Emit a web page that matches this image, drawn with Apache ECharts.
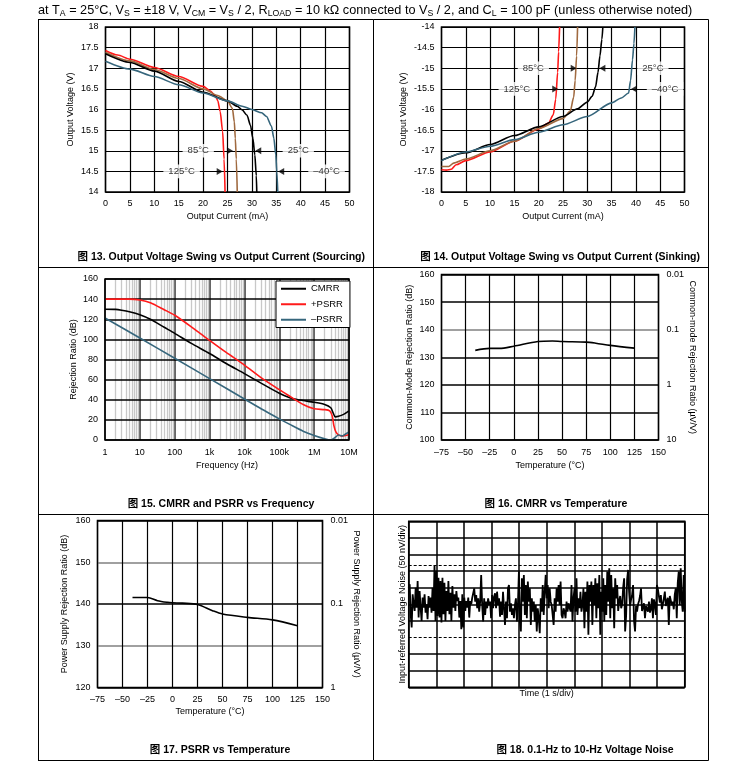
<!DOCTYPE html>
<html><head><meta charset="utf-8">
<script src="https://cdn.jsdelivr.net/npm/echarts@6/dist/echarts.min.js"></script>
<style>html,body{margin:0;padding:0;background:#fff}#c{width:746px;height:781px}</style>
</head><body><div id="c"></div><script>
const FONT = '"Liberation Sans", Arial, "Noto Sans CJK SC", sans-serif';

// ---- Fig 13: sourcing (current mA, voltage V)
const src125 = [[0,17.43],[2.5,17.32],[5,17.22],[10,17.02],[15,16.8],[20,16.56],[21.5,16.45],[22.5,16.33],[23,16.22],[23.5,15.95],[24,15.47],[24.3,14.8],[24.5,14]];
const src85 = [[0,17.39],[5,17.18],[10,16.97],[15,16.75],[20,16.5],[23,16.34],[25,16.21],[26,16.03],[26.4,15.7],[26.6,15.3],[26.8,14.8],[27,14]];
const src25 = [[0,17.35],[5,17.14],[10,16.93],[15,16.68],[20,16.42],[25,16.21],[27,16.08],[28,15.99],[29,15.86],[29.7,15.62],[30.2,15.3],[30.6,14.9],[30.9,14.4],[31,14]];
const srcM40 = [[0,17.17],[5,16.98],[10,16.8],[15,16.6],[20,16.4],[25,16.21],[28,16.08],[30,16.0],[32,15.92],[33,15.83],[34,15.6],[34.5,15.3],[34.9,14.9],[35.1,14.5],[35.3,14]];
const srcLabels = [['85°C',19.0,15],['25°C',39.5,15],['125°C',15.6,14.5],['–40°C',45.3,14.5]];
const srcArrows = [[25.5,15,'right'],[31.3,15,'left'],[23.4,14.5,'right'],[36.0,14.5,'left']];

// ---- Fig 14: sinking
const snk125 = [[0,-17.46],[1,-17.47],[2,-17.45],[3,-17.34],[5,-17.24],[10,-17.03],[15,-16.77],[20,-16.47],[22,-16.33],[23,-16.13],[23.5,-15.75],[23.9,-15.1],[24.1,-14.6],[24.3,-14]];
const snk85 = [[0,-17.38],[1.5,-17.38],[2.5,-17.3],[5,-17.2],[10,-17.0],[15,-16.77],[20,-16.46],[25,-16.22],[26.5,-16.04],[27.2,-15.7],[27.5,-15.3],[27.8,-14.7],[28,-14]];
const snk25 = [[0,-17.23],[5,-17.05],[10,-16.85],[15,-16.63],[20,-16.42],[25,-16.17],[28,-15.98],[30,-15.82],[31,-15.68],[31.7,-15.45],[32.2,-15.1],[32.6,-14.7],[33,-14.3],[33.2,-14]];
const snkM40 = [[0,-17.24],[5,-17.03],[10,-16.89],[15,-16.73],[20,-16.55],[25,-16.37],[30,-16.17],[35,-15.84],[37,-15.72],[38.5,-15.6],[38.9,-15.3],[39.3,-14.8],[39.6,-14.4],[39.8,-14]];
const snkLabels = [['85°C',18.9,-15],['25°C',43.5,-15],['125°C',15.5,-15.5],['–40°C',46.0,-15.5]];
const snkArrows = [[27.2,-15,'right'],[33.1,-15,'left'],[23.4,-15.5,'right'],[39.6,-15.5,'left']];

// ---- Fig 15: CMRR / PSRR vs frequency (Hz, dB)
const cmrrFreq = [[1,130],[2,129.8],[3,129],[5,127.5],[10,124.5],[20,120],[50,112],[100,106],[300,96],[1000,86],[3000,76],[10000,66],[30000,56.5],[100000,46.5],[200000,42],[300000,40.5],[500000,39.2],[1000000,37.5],[2000000,35.3],[3000000,32],[3500000,27],[4000000,23],[5000000,23.5],[7000000,25.5],[10000000,29]];
const psrrPFreq = [[1,140],[5,140],[10,139.2],[20,136.5],[50,129.5],[100,124],[300,112.5],[1000,99],[3000,87],[10000,74.5],[30000,62],[100000,50],[200000,43.5],[500000,35],[1000000,31],[2000000,30.2],[2800000,29],[3300000,24],[3700000,14],[4200000,8],[5000000,5],[6000000,4],[8000000,4.5],[10000000,5.5]];
const psrrNFreq = [[1,121.3],[10,101.3],[100,81.3],[1000,61],[10000,40.8],[30000,31],[100000,21],[200000,15.5],[500000,8.5],[1000000,4.5],[2000000,1.2],[3000000,0],[4000000,2.5],[5000000,5],[6500000,4],[8000000,6],[10000000,8]];
const freqDecades = [1,10,100,1000,10000,100000,1000000];
const freqLabels = {1:'1',10:'10',100:'100',1000:'1k',10000:'10k',100000:'100k',1000000:'1M',10000000:'10M'};

// ---- Fig 16 / 17: vs temperature
const cmrrTemp = [-40,-25,-15,0,25,40,50,75,85,100,125];
const cmrrDb = [132.5,133.2,133.2,134.0,135.7,135.9,135.7,135.5,135.1,134.3,133.3];
const psrrTemp = [-40,-25,-15,-5,0,10,25,40,50,75,100,125];
const psrrDb = [141.55,141.55,140.8,140.4,140.3,140.2,139.9,138.4,137.6,136.8,136.2,134.8];

// ---- Fig 18: noise (divisions, centre = 5)
const noise = [
6.0,6.2,4.4,3.6,5.6,5.0,4.6,6.0,4.8,6.4,4.2,5.8,4.8,4.0,5.4,4.8,5.6,4.5,5.0,4.1,5.5,4.8,5.4,4.5,6.0,4.6,7.35,4.0,7.0,4.3,6.6,4.2,6.4,3.9,6.6,4.4,6.3,4.0,5.8,4.6,6.4,4.4,5.7,4.0,6.1,4.8,5.6,4.6,5.8,5.2,5.4,4.2,5.2,3.5,5.6,3.6,5.4,4.6,5.2,4.8,5.4,4.2,5.2,5.0,5.4,5.3,
5.96,5.16,5.56,4.76,5.36,4.56,5.16,6.77,4.96,3.96,5.36,4.36,5.16,4.76,5.36,4.96,5.16,4.16,5.56,4.76,5.46,5.66,4.76,5.76,4.96,5.36,4.26,5.16,4.36,5.76,4.76,3.76,5.16,4.16,5.96,6.16,4.56,5.06,4.36,4.76,4.16,4.96,5.36,3.96,4.96,6.97,3.96,3.36,6.57,5.16,6.77,4.36,6.16,4.16,6.37,5.16,5.96,3.76,5.36,4.56,5.16,3.96,4.96,3.36,4.76,4.16,3.26,5.36,4.56,6.16,4.36,5.76,
6.77,5.36,6.16,4.76,5.96,5.16,4.96,4.36,3.76,5.36,4.56,5.96,5.16,6.16,4.96,6.37,4.36,4.16,4.76,4.56,4.16,5.16,4.56,5.06,5.16,4.56,6.16,3.96,5.36,5.96,4.56,6.57,4.36,5.36,4.76,5.76,4.56,4.96,5.96,3.56,5.76,4.56,6.37,3.16,6.16,5.16,6.37,3.76,6.16,4.96,6.57,4.16,6.26,4.76,6.77,3.16,5.76,4.56,6.57,3.96,6.16,4.36,6.97,5.16,7.17,4.16,6.77,4.76,5.96,3.56,6.57,5.36,
6.16,4.6,5.2,5.5,4.76,5.0,6.0,6.57,3.36,4.3,6.5,7.07,5.76,4.9,5.3,5.56,6.16,4.0,3.36,4.9,4.56,5.0,5.2,5.5,5.96,4.6,4.5,5.06,4.16,4.9,4.8,4.56,5.16,4.5,4.7,5.36,4.16,5.3,5.0,4.36,6.16,5.9,5.5,5.1,5.56,4.7,5.0,5.36,5.76,4.9,5.2,5.4,3.76,5.5,5.4,4.96,5.16,4.7,5.6,5.96,4.16,6.3,6.97,4.96,7.17,5.2,4.56,6.77,4.56
];
const noiseLimits = [7.35, 3.0];

const dash = v => (v < 0 ? '–' + Math.abs(v) : '' + v);
const COL = {red:'#ff1a1a', brown:'#a06a40', black:'#000', blue:'#36667c'};

function axis(o) {
  const base = {
    axisLine:{show:false}, axisTick:{show:false},
    axisLabel:{color:'#000', fontSize:9, fontFamily:FONT, margin:7},
    nameTextStyle:{color:'#000', fontSize:9, fontFamily:FONT},
    nameLocation:'middle',
    splitLine:{show:true, lineStyle:{color:'#000', width:1.2}}
  };
  const r = Object.assign({}, base, o);
  if (o.axisLabel) r.axisLabel = Object.assign({}, base.axisLabel, o.axisLabel);
  if (o.splitLine) r.splitLine = Object.assign({}, base.splitLine, o.splitLine);
  return r;
}
function line(name, data, color, xi, yi, extra) {
  return Object.assign({type:'line', name, data, xAxisIndex:xi, yAxisIndex:yi, symbol:'none', showSymbol:false,
    smooth:0.25, lineStyle:{color, width:1.6}, itemStyle:{color}, z:3, silent:true, clip:true}, extra || {});
}
function labelSeries(list, xi, yi) {
  return {type:'scatter', xAxisIndex:xi, yAxisIndex:yi, symbol:'rect', symbolSize:1, itemStyle:{color:'rgba(0,0,0,0)'}, z:6, silent:true,
    data: list.map(l => ({name:l[0], value:[l[1], l[2]]})),
    label:{show:true, position:'inside', formatter:'{b}', color:'#000', fontSize:9.5, fontFamily:FONT, backgroundColor:'#fff', padding:[2,5]}};
}
function arrowSeries(list, xi, yi) {
  return {type:'scatter', xAxisIndex:xi, yAxisIndex:yi, symbol:'triangle', symbolSize:[7,6], z:6, silent:true,
    itemStyle:{color:'#000'},
    data: list.map(a => ({value:[a[0], a[1]], symbolRotate: a[2] === 'right' ? -90 : 90}))};
}

const minorFreq = [];
freqDecades.forEach(d => { for (let k = 2; k <= 9; k++) minorFreq.push({xAxis: d * k}); });

const hdr = 'at T{s|A} = 25°C, V{s|S} = ±18 V, V{s|CM} = V{s|S} / 2, R{s|LOAD} = 10 kΩ connected to V{s|S} / 2, and C{s|L} = 100 pF (unless otherwise noted)';

const chart = echarts.init(document.getElementById('c'), null, {renderer:'canvas'});
const gridBase = {show:true, borderColor:'#000', borderWidth:1.5, backgroundColor:'rgba(0,0,0,0)'};
chart.setOption({
  animation:false,
  backgroundColor:'#fff',
  textStyle:{fontFamily:FONT},
  grid:[
    Object.assign({left:105.5, top:27, width:244, height:165}, gridBase),
    Object.assign({left:441.5, top:27, width:243, height:165}, gridBase),
    Object.assign({left:105, top:279, width:244, height:161, z:4}, gridBase),
    Object.assign({left:441.5, top:274.5, width:217, height:165.5}, gridBase),
    Object.assign({left:97.5, top:520.5, width:225, height:167}, gridBase),
    Object.assign({left:408.7, top:521.3, width:276, height:166}, gridBase)
  ],
  legend:{data:['CMRR','+PSRR','–PSRR'], orient:'vertical', left:276, top:281, backgroundColor:'#fff', borderColor:'#000', borderWidth:1,
    padding:[3,7,3,5], itemWidth:25, itemHeight:2, itemGap:6, icon:'rect', selectedMode:false,
    textStyle:{color:'#000', fontSize:9.5, fontFamily:FONT}, z:6},
  xAxis:[
    axis({type:'value', gridIndex:0, min:0, max:50, interval:5, name:'Output Current (mA)', nameGap:20}),
    axis({type:'value', gridIndex:1, min:0, max:50, interval:5, name:'Output Current (mA)', nameGap:20}),
    axis({type:'log', logBase:10, gridIndex:2, min:1, max:10000000, name:'Frequency (Hz)', nameGap:21, z:1,
      axisLabel:{interval:0, margin:8, formatter:v => freqLabels[Math.round(v)] || ''},
      splitLine:{lineStyle:{color:'#666', width:2}}}),
    axis({type:'value', gridIndex:3, min:-75, max:150, interval:25, name:'Temperature (°C)', nameGap:21, axisLabel:{formatter:dash, margin:8}}),
    axis({type:'value', gridIndex:4, min:-75, max:150, interval:25, name:'Temperature (°C)', nameGap:20, axisLabel:{formatter:dash, margin:8}}),
    axis({type:'value', gridIndex:5, min:0, max:10, interval:1, name:'Time (1 s/div)', nameGap:2, axisLabel:{show:false},
      splitLine:{lineStyle:{color:'#000', width:1.5}}})
  ],
  yAxis:[
    axis({type:'value', gridIndex:0, min:14, max:18, interval:0.5, name:'Output Voltage (V)', nameRotate:90, nameGap:30}),
    axis({type:'value', gridIndex:1, min:-18, max:-14, interval:0.5, name:'Output Voltage (V)', nameRotate:90, nameGap:33}),
    axis({type:'value', gridIndex:2, min:0, max:160, interval:20, name:'Rejection Ratio (dB)', nameRotate:90, nameGap:27, z:2,
      splitLine:{lineStyle:{color:'#000', width:1.5}}}),
    axis({type:'value', gridIndex:3, min:100, max:160, interval:10, position:'left', name:'Common-Mode Rejection Ratio (dB)', nameRotate:90, nameGap:27,
      splitLine:{lineStyle:{color:['#000','#000','#000','#000','#808080','#000','#000'], width:1.5}}}),
    axis({type:'log', logBase:10, gridIndex:3, min:0.01, max:10, inverse:true, position:'right', name:'Common-mode Rejection Ratio (µV/V)', nameRotate:-90, nameGap:21,
      splitLine:{show:false}, axisLabel:{margin:8, formatter:v => '' + parseFloat(v.toPrecision(2))}}),
    axis({type:'value', gridIndex:4, min:120, max:160, interval:10, position:'left', name:'Power Supply Rejection Ratio (dB)', nameRotate:90, nameGap:28,
      splitLine:{lineStyle:{color:['#000','#808080','#000','#808080','#000'], width:1.5}}}),
    axis({type:'log', logBase:10, gridIndex:4, min:0.01, max:1, inverse:true, position:'right', name:'Power Supply Rejection Ratio (µV/V)', nameRotate:-90, nameGap:23,
      splitLine:{show:false}, axisLabel:{margin:8, formatter:v => '' + parseFloat(v.toPrecision(2))}}),
    axis({type:'value', gridIndex:5, min:0, max:10, interval:1, name:'Input-referred Voltage Noise (50 nV/div)', nameRotate:90, nameGap:2, axisLabel:{show:false},
      splitLine:{lineStyle:{color:['#000','#000','#000','rgba(0,0,0,0)','#000','#000','#000','#000','#000','#000','#000'], width:1.5}}})
  ],
  series:[
    line('s125', src125, COL.red, 0, 0, {smoothMonotone:'x'}),
    line('s85', src85, COL.brown, 0, 0, {smoothMonotone:'x'}),
    line('s25', src25, COL.black, 0, 0, {smoothMonotone:'x'}),
    line('sM40', srcM40, COL.blue, 0, 0, {smoothMonotone:'x'}),
    labelSeries(srcLabels, 0, 0),
    arrowSeries(srcArrows, 0, 0),
    line('k125', snk125, COL.red, 1, 1, {smoothMonotone:'x'}),
    line('k85', snk85, COL.brown, 1, 1, {smoothMonotone:'x'}),
    line('k25', snk25, COL.black, 1, 1, {smoothMonotone:'x'}),
    line('kM40', snkM40, COL.blue, 1, 1, {smoothMonotone:'x'}),
    labelSeries(snkLabels, 1, 1),
    arrowSeries(snkArrows, 1, 1),
    {type:'line', name:'minorgrid', xAxisIndex:2, yAxisIndex:2, data:[[1,-50]], symbol:'none', silent:true, lineStyle:{opacity:0},
      markLine:{silent:true, symbol:'none', z:1, label:{show:false}, animation:false,
        lineStyle:{color:'#c8c8c8', width:1.3, type:'solid'}, data:minorFreq}},
    line('CMRR', cmrrFreq, COL.black, 2, 2),
    line('+PSRR', psrrPFreq, COL.red, 2, 2),
    line('–PSRR', psrrNFreq, COL.blue, 2, 2),
    line('cmrrT', cmrrTemp.map((t,i) => [t, cmrrDb[i]]), COL.black, 3, 3, {smooth:0.3}),
    line('psrrT', psrrTemp.map((t,i) => [t, psrrDb[i]]), COL.black, 4, 5, {smooth:0.3}),
    line('noise', noise.map((v,i) => [i * 10 / (noise.length - 1), v]), '#000', 5, 7, {smooth:false, lineStyle:{color:'#000', width:1.8},
      markLine:{silent:true, symbol:'none', label:{show:false}, animation:false, lineStyle:{color:'#000', width:1, type:[3,2]},
        data: noiseLimits.map(v => ({yAxis:v}))}})
  ],
  graphic:[
    {type:'text', style:{x:38, y:10, text:hdr, fontSize:12.7, fontFamily:FONT, fill:'#000', verticalAlign:'middle', lineHeight:15,
      rich:{s:{fontSize:8.7, fontFamily:FONT, verticalAlign:'bottom', lineHeight:10}}}},
    ...[19.5, 267.5, 514.5, 760.5].map(y => ({type:'line', shape:{x1:38, y1:y, x2:708.5, y2:y}, style:{stroke:'#000', lineWidth:1}})),
    ...[38.5, 373.5, 708.5].map(x => ({type:'line', shape:{x1:x, y1:19.5, x2:x, y2:760.5}, style:{stroke:'#000', lineWidth:1}})),
    {type:'text', style:{x:365, y:257.5, text:'图 13. Output Voltage Swing vs Output Current (Sourcing)', align:'right', verticalAlign:'middle', fontSize:10.5, fontWeight:'bold', fontFamily:FONT, fill:'#000'}},
    {type:'text', style:{x:700, y:257.5, text:'图 14. Output Voltage Swing vs Output Current (Sinking)', align:'right', verticalAlign:'middle', fontSize:10.5, fontWeight:'bold', fontFamily:FONT, fill:'#000'}},
    {type:'text', style:{x:221, y:504, text:'图 15. CMRR and PSRR vs Frequency', align:'center', verticalAlign:'middle', fontSize:10.5, fontWeight:'bold', fontFamily:FONT, fill:'#000'}},
    {type:'text', style:{x:556, y:504, text:'图 16. CMRR vs Temperature', align:'center', verticalAlign:'middle', fontSize:10.5, fontWeight:'bold', fontFamily:FONT, fill:'#000'}},
    {type:'text', style:{x:220, y:750.5, text:'图 17. PSRR vs Temperature', align:'center', verticalAlign:'middle', fontSize:10.5, fontWeight:'bold', fontFamily:FONT, fill:'#000'}},
    {type:'text', style:{x:585, y:750.5, text:'图 18. 0.1-Hz to 10-Hz Voltage Noise', align:'center', verticalAlign:'middle', fontSize:10.5, fontWeight:'bold', fontFamily:FONT, fill:'#000'}}
  ]
});
</script></body></html>
